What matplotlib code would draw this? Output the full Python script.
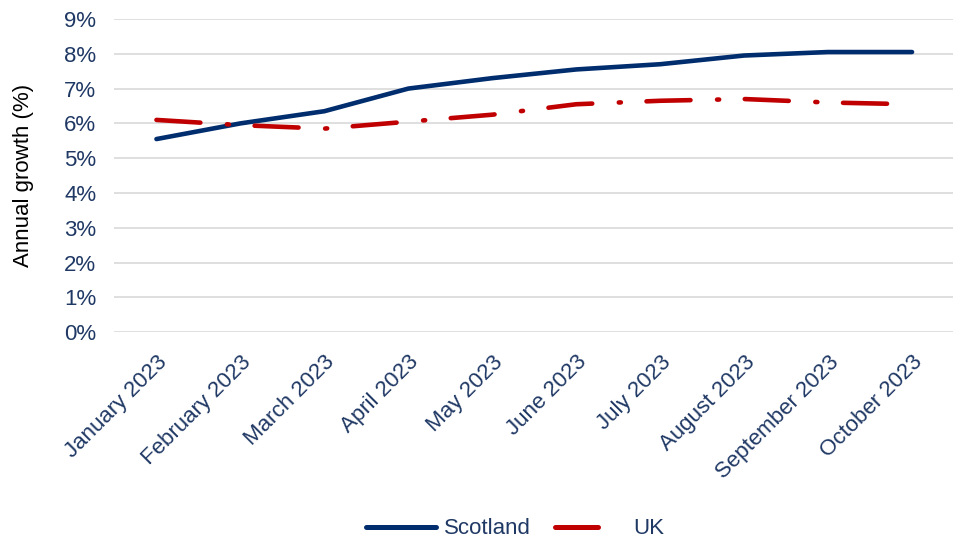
import matplotlib.pyplot as plt
from matplotlib.lines import Line2D
from matplotlib.ticker import PercentFormatter

plt.rcParams['font.family'] = ['Liberation Sans', 'DejaVu Sans']

months = ['January 2023', 'February 2023', 'March 2023', 'April 2023', 'May 2023',
          'June 2023', 'July 2023', 'August 2023', 'September 2023', 'October 2023']
scotland = [5.55, 6.0, 6.35, 7.0, 7.3, 7.55, 7.7, 7.95, 8.05, 8.05]
uk = [6.1, 5.95, 5.85, 6.05, 6.25, 6.55, 6.65, 6.7, 6.6, 6.55]

navy = '#002D6E'
red = '#C00000'
text_navy = '#1F3864'
uk_dashes = (9.6, 5.8, 0.45, 5.6)

fig = plt.figure(figsize=(9.54, 5.42), dpi=100)
ax = fig.add_axes([0.12, 0.387, 0.88, 0.578])

x = range(len(months))
ax.plot(x, scotland, color=navy, lw=3.3, solid_capstyle='round', zorder=3)
ax.plot(x, uk, color=red, lw=3.3, dashes=uk_dashes,
        dash_capstyle='round', zorder=3)

ax.set_xlim(-0.5, len(months) - 0.5)
ax.set_ylim(0, 9)
ax.set_yticks(range(0, 10))
ax.yaxis.set_major_formatter(PercentFormatter(decimals=0))
ax.grid(axis='y', color='#D9D9D9', lw=1.2)
ax.set_axisbelow(True)
for s in ax.spines.values():
    s.set_visible(False)
ax.tick_params(length=0, labelsize=16, labelcolor=text_navy)
ax.tick_params(axis='y', pad=13)
ax.tick_params(axis='x', pad=14)

ax.set_xticks(list(x))
ax.set_xticklabels(months, rotation=45, ha='right', rotation_mode='anchor')
ax.set_ylabel('Annual growth (%)', fontsize=16, color='black', labelpad=22)

handles = [Line2D([], [], color=navy, lw=3.6, solid_capstyle='round'),
           Line2D([], [], color=red, lw=3.6, dashes=(8.6, 20), dash_capstyle='round')]
fig.legend(handles, ['Scotland', 'UK'], loc='center', bbox_to_anchor=(0.54, 0.024),
           ncol=2, frameon=False, fontsize=16, handlelength=3.15, handletextpad=0.35,
           columnspacing=1.1, labelcolor=text_navy)

fig.savefig('out.png', dpi=100)
